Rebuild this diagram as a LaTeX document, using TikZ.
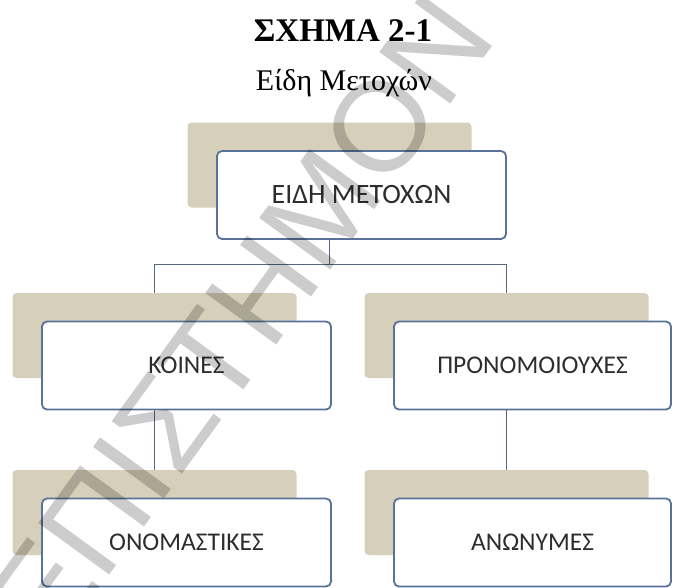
\documentclass[tikz,border=0pt]{standalone}
\usepackage{fontspec}
\setmainfont{Liberation Serif}
\newfontfamily\boxfont{Carlito}
\newfontfamily\markfont{Liberation Sans}
\usepackage{tikz}
\usetikzlibrary{positioning}
\definecolor{backtan}{RGB}{214,208,186}
\definecolor{frameblue}{RGB}{88,114,152}
\definecolor{linkblue}{RGB}{88,102,128}
\definecolor{ink}{RGB}{45,45,45}

\begin{document}
\begin{tikzpicture}[x=1pt,y=-1pt,
  back/.style={fill=backtan,rounded corners=4pt,minimum width=284pt,minimum height=85pt,inner sep=0pt},
  card/.style={draw=frameblue,line width=1.8pt,fill=white,rounded corners=5pt,minimum width=289pt,minimum height=88pt,inner sep=0pt,text=ink,font=\boxfont\fontsize{25.5}{30}\selectfont},
  link/.style={draw=linkblue,line width=1.9pt}]
\useasboundingbox (0,0) rectangle (675,587);
\clip (0,0) rectangle (675,587);
\node[font=\bfseries\fontsize{33}{38}\selectfont,anchor=base] (title) at (343,41.5) {ΣΧΗΜΑ 2-1};
\node[font=\fontsize{30}{35}\selectfont,anchor=base] (subtitle) at (344,90) {Είδη Μετοχών};
\node[back] (rootbg) at (329.5,165) {};
\node[back] (koinesbg) at (154.5,335.5) {};
\node[back] (pronombg) at (506.5,335.5) {};
\node[back] (onombg) at (154.5,512.5) {};
\node[back] (anonbg) at (506.5,512.5) {};
\node[card,font=\boxfont\fontsize{28}{32}\selectfont] (root) at ([shift={(32,30)}]rootbg.center) {ΕΙΔΗ ΜΕΤΟΧΩΝ};
\node[card] (koines) at ([shift={(32,30)}]koinesbg.center) {ΚΟΙΝΕΣ};
\node[card,minimum width=277pt] (pronom) at ([shift={(26,30)}]pronombg.center) {ΠΡΟΝΟΜΟΙΟΥΧΕΣ};
\node[card] (onom) at ([shift={(32,30)}]onombg.center) {ΟΝΟΜΑΣΤΙΚΕΣ};
\node[card,minimum width=277pt] (anon) at ([shift={(26,30)}]anonbg.center) {ΑΝΩΝΥΜΕΣ};
\coordinate (fork) at (rootbg.center |- 0,264.5);
\draw[link] (root.south -| rootbg.center) -- (fork);
\draw[link] (koinesbg.north) |- (fork) -| (pronombg.north);
\draw[link] (koines.south -| koinesbg.center) -- (onombg.north);
\draw[link] (pronom.south -| pronombg.center) -- (anonbg.north);
\node[font=\markfont\fontsize{127.5}{128}\selectfont,opacity=0.2,rotate=54,anchor=base west,inner sep=0pt] (mark) at (53,652) {ΕΠΙΣΤΗΜΟΝ};
\end{tikzpicture}
\end{document}
